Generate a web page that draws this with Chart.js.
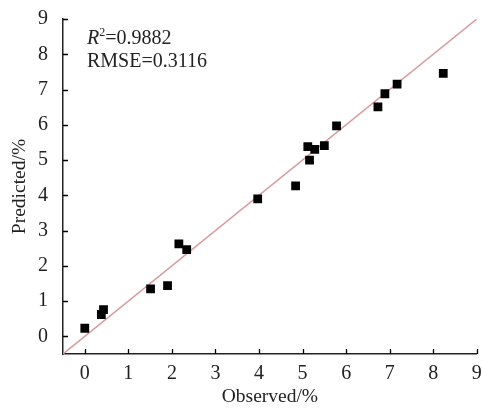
<!DOCTYPE html>
<html>
<head>
<meta charset="utf-8">
<script src="https://cdn.jsdelivr.net/npm/chart.js@4/dist/chart.umd.min.js"></script>
<style>
  html, body { margin: 0; padding: 0; background: #fff; }
  #wrap { width: 483px; height: 412px; }
</style>
</head>
<body>
<div id="wrap"><canvas id="chart"></canvas></div>
<script>
// observed vs predicted values (%)
const observed  = [0.00, 0.38, 0.43, 1.51, 1.90, 2.16, 2.34, 3.97, 4.84, 5.16, 5.12, 5.28, 5.50, 5.78, 6.73, 6.89, 7.17, 8.23];
const predicted = [0.23, 0.62, 0.76, 1.35, 1.44, 2.62, 2.46, 3.90, 4.27, 5.00, 5.38, 5.30, 5.41, 5.97, 6.51, 6.88, 7.15, 7.46];
const xTicks = [0, 1, 2, 3, 4, 5, 6, 7, 8, 9];
const yTicks = [0, 1, 2, 3, 4, 5, 6, 7, 8, 9];
const axisMin = -0.5;
const axisMax = 9;
const r2Text = '0.9882';
const rmseText = '0.3116';

const serif = "'Liberation Serif', 'Times New Roman', serif";

// small inward tick marks + the R2 / RMSE note
const extras = {
    id: 'extras',
    afterDraw(chart) {
        const ctx = chart.ctx;
        const xs = chart.scales.x, ys = chart.scales.y;
        const area = chart.chartArea;
        ctx.save();
        ctx.strokeStyle = '#000';
        ctx.lineWidth = 1.3;
        ctx.beginPath();
        xTicks.forEach(v => {
            const px = Math.round(xs.getPixelForValue(v)) + 0.5;
            ctx.moveTo(px, area.bottom);
            ctx.lineTo(px, area.bottom - 5);
        });
        yTicks.forEach(v => {
            const py = Math.round(ys.getPixelForValue(v)) + 0.5;
            ctx.moveTo(area.left, py);
            ctx.lineTo(area.left + 5, py);
        });
        ctx.stroke();

        ctx.fillStyle = '#222';
        ctx.textBaseline = 'alphabetic';
        let x = 87;
        ctx.font = 'italic 20px ' + serif;
        ctx.fillText('R', x, 44);
        x += ctx.measureText('R').width;
        ctx.font = '12px ' + serif;
        ctx.fillText('2', x, 36);
        x += ctx.measureText('2').width;
        ctx.font = '20px ' + serif;
        ctx.fillText('=' + r2Text, x, 44);
        ctx.fillText('RMSE=' + rmseText, 87, 67);
        ctx.restore();
    }
};

const ctx = document.getElementById('chart').getContext('2d');
new Chart(ctx, {
    type: 'scatter',
    data: {
        datasets: [
            {
                label: 'samples',
                data: observed.map((v, i) => ({ x: v, y: predicted[i] })),
                pointStyle: 'rect',
                pointRadius: 6.2,
                pointBorderWidth: 0,
                backgroundColor: '#000',
                borderColor: '#000',
                order: 1
            },
            {
                label: '1:1',
                type: 'line',
                data: [{ x: axisMin, y: axisMin }, { x: axisMax, y: axisMax }],
                borderColor: '#d99a9c',
                borderWidth: 1.5,
                pointRadius: 0,
                order: 2
            }
        ]
    },
    options: {
        responsive: true,
        maintainAspectRatio: false,
        animation: false,
        layout: { padding: { top: 19, right: 4, left: 0, bottom: 0 } },
        plugins: { legend: { display: false }, tooltip: { enabled: false } },
        scales: {
            x: {
                type: 'linear',
                min: axisMin,
                max: axisMax,
                afterBuildTicks: s => { s.ticks = xTicks.map(v => ({ value: v })); },
                afterFit: s => { s.height = 58; },
                grid: { display: false },
                border: { color: '#222', width: 1.5 },
                ticks: { color: '#222', padding: 0, maxRotation: 0, font: { family: serif, size: 20 } },
                title: { display: true, text: 'Observed/%', color: '#222', padding: { top: 0, bottom: 3 }, font: { family: serif, size: 19.5 } }
            },
            y: {
                type: 'linear',
                min: axisMin,
                max: axisMax,
                afterBuildTicks: s => { s.ticks = yTicks.map(v => ({ value: v })); },
                afterFit: s => { s.width = 63; },
                grid: { display: false },
                border: { color: '#222', width: 1.5 },
                ticks: { color: '#222', padding: 7, font: { family: serif, size: 20 } },
                title: { display: true, text: 'Predicted/%', color: '#222', padding: { top: 8, bottom: 0 }, font: { family: serif, size: 19.5 } }
            }
        }
    },
    plugins: [extras]
});
</script>
</body>
</html>
